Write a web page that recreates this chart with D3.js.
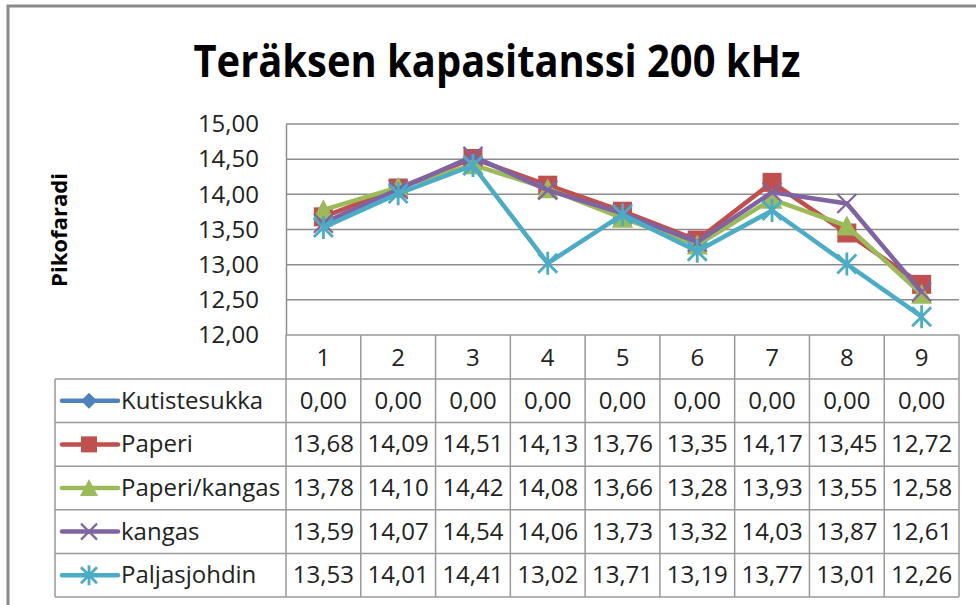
<!DOCTYPE html>
<html>
<head>
<meta charset="utf-8">
<script src="https://cdn.jsdelivr.net/npm/d3@7"></script>
<style>
  body { margin: 0; background: #fff; }
  svg { display: block; font-family: "Open Sans", sans-serif; }
</style>
</head>
<body>
<script>
const categories = ["1", "2", "3", "4", "5", "6", "7", "8", "9"];
const seriesNames = ["Kutistesukka", "Paperi", "Paperi/kangas", "kangas", "Paljasjohdin"];
const kutistesukka = [0, 0, 0, 0, 0, 0, 0, 0, 0];
const paperi = [13.68, 14.09, 14.51, 14.13, 13.76, 13.35, 14.17, 13.45, 12.72];
const paperiKangas = [13.78, 14.10, 14.42, 14.08, 13.66, 13.28, 13.93, 13.55, 12.58];
const kangas = [13.59, 14.07, 14.54, 14.06, 13.73, 13.32, 14.03, 13.87, 12.61];
const paljasjohdin = [13.53, 14.01, 14.41, 13.02, 13.71, 13.19, 13.77, 13.01, 12.26];
const yTicks = [12, 12.5, 13, 13.5, 14, 14.5, 15];

const colors = ["#4F81BD", "#C0504D", "#9BBB59", "#8064A2", "#4BACC6"];
const markers = ["diamond", "square", "triangle", "x", "star"];
const series = [kutistesukka, paperi, paperiKangas, kangas, paljasjohdin].map((v, i) => ({
  name: seriesNames[i], values: v, color: colors[i], marker: markers[i]
}));

const width = 976, height = 605;
const svg = d3.select("body").append("svg")
    .attr("width", width)
    .attr("height", height);

const fmt = v => d3.format(".2f")(v).replace(".", ",");

// outer chart frame
svg.append("rect")
    .attr("x", 8).attr("y", 6)
    .attr("width", 1000).attr("height", 700)
    .attr("fill", "none")
    .attr("stroke", "#8a8a8a")
    .attr("stroke-width", 3);

// title
svg.append("text")
    .attr("x", 497).attr("y", 77)
    .attr("text-anchor", "middle")
    .style("font-size", "44px")
    .style("font-weight", "bold")
    .attr("fill", "#000")
    .attr("textLength", 607)
    .attr("lengthAdjust", "spacingAndGlyphs")
    .text("Teräksen kapasitanssi 200 kHz");

const plotLeft = 286, plotRight = 959, plotTop = 124, plotBottom = 335;
const x = d3.scaleBand().domain(categories).range([plotLeft, plotRight]);
const y = d3.scaleLinear().domain([12, 15]).range([plotBottom, plotTop]);
const cx = c => x(c) + x.bandwidth() / 2;

// gridlines
svg.append("g")
  .selectAll("line")
  .data(yTicks.slice(1))
  .join("line")
    .attr("x1", plotLeft).attr("x2", plotRight)
    .attr("y1", d => y(d)).attr("y2", d => y(d))
    .attr("stroke", "#8c8c8c")
    .attr("stroke-width", 1.5);

// y axis
const yAxis = svg.append("g")
    .attr("transform", `translate(${plotLeft},0)`)
    .call(d3.axisLeft(y).tickValues(yTicks).tickFormat(fmt).tickSize(0).tickPadding(27));
yAxis.select(".domain").attr("stroke", "#8c8c8c").attr("stroke-width", 1.5);
yAxis.selectAll("text")
    .style("font-size", "24px")
    .style("font-family", "Open Sans, sans-serif")
    .attr("fill", "#222");

svg.append("text")
    .attr("transform", "translate(67,230) rotate(-90)")
    .attr("text-anchor", "middle")
    .style("font-size", "22px")
    .style("font-weight", "bold")
    .attr("textLength", 114)
    .attr("lengthAdjust", "spacingAndGlyphs")
    .text("Pikofaradi");

// marker shapes
function drawMarker(g, type, color, s) {
  if (type === "diamond") {
    g.append("path").attr("d", `M0,${-s}L${s},0L0,${s}L${-s},0Z`).attr("fill", color);
  } else if (type === "square") {
    g.append("rect").attr("x", -s).attr("y", -s).attr("width", 2 * s).attr("height", 2 * s).attr("fill", color);
  } else if (type === "triangle") {
    g.append("path").attr("d", `M0,${-s - 1}L${s + 1},${s}L${-s - 1},${s}Z`).attr("fill", color);
  } else if (type === "x") {
    g.append("path").attr("d", `M${-s},${-s}L${s},${s}M${s},${-s}L${-s},${s}`)
      .attr("stroke", color).attr("stroke-width", 2.2);
  } else if (type === "star") {
    g.append("path").attr("d", `M${-s},${-s}L${s},${s}M${s},${-s}L${-s},${s}M0,${-s - 2}L0,${s + 2}`)
      .attr("stroke", color).attr("stroke-width", 2.8);
  }
}

svg.append("clipPath").attr("id", "plotclip")
  .append("rect").attr("x", plotLeft).attr("y", plotTop - 15)
  .attr("width", plotRight - plotLeft + 10).attr("height", plotBottom - plotTop + 15);

const plot = svg.append("g").attr("clip-path", "url(#plotclip)");
const line = d3.line()
    .x((d, i) => cx(categories[i]))
    .y(d => y(d));

series.forEach(s => {
  const g = plot.append("g");
  g.append("path")
      .attr("d", line(s.values))
      .attr("fill", "none")
      .attr("stroke", s.color)
      .attr("stroke-width", 4.5)
      .attr("stroke-linejoin", "round");
  g.selectAll("g.m")
    .data(s.values)
    .join("g")
      .attr("class", "m")
      .attr("transform", (d, i) => `translate(${cx(categories[i])},${y(d)})`)
      .each(function() { drawMarker(d3.select(this), s.marker, s.color, 9.5); });
});

// data table
const tableLeft = 55, headerBottom = 379, rowH = 43.6;
const tg = svg.append("g");
const rowY = i => headerBottom + i * rowH;

tg.selectAll("text.h")
  .data(categories)
  .join("text")
    .attr("class", "h")
    .attr("x", d => cx(d))
    .attr("y", plotBottom + 31)
    .attr("text-anchor", "middle")
    .style("font-size", "24px")
    .attr("fill", "#222")
    .text(d => d);

series.forEach((s, r) => {
  const cy = rowY(r) + rowH / 2;
  const key = tg.append("g");
  key.append("line")
      .attr("x1", 62).attr("x2", 118).attr("y1", cy).attr("y2", cy)
      .attr("stroke", s.color).attr("stroke-width", 4.5).attr("stroke-linecap", "round");
  const mk = key.append("g").attr("transform", `translate(89,${cy})`);
  drawMarker(mk, s.marker, s.color, 8);
  tg.append("text")
      .attr("x", 121).attr("y", cy + 8)
      .style("font-size", "24px")
      .attr("fill", "#222")
      .text(s.name);
  tg.selectAll(null)
    .data(s.values)
    .join("text")
      .attr("x", (d, i) => cx(categories[i]))
      .attr("y", cy + 8)
      .attr("text-anchor", "middle")
      .style("font-size", "24px")
      .attr("fill", "#222")
      .text(fmt);
});

// table grid lines
const gridStroke = "#999";
tg.append("line").attr("x1", plotLeft).attr("x2", plotRight).attr("y1", plotBottom).attr("y2", plotBottom)
    .attr("stroke", gridStroke).attr("stroke-width", 1.5);
tg.selectAll("line.hr")
  .data(d3.range(series.length + 1).map(rowY))
  .join("line")
    .attr("class", "hr")
    .attr("x1", tableLeft).attr("x2", plotRight)
    .attr("y1", d => d).attr("y2", d => d)
    .attr("stroke", gridStroke).attr("stroke-width", 1.5);
tg.selectAll("line.vr")
  .data(categories.map(c => x(c)).concat([plotRight]))
  .join("line")
    .attr("class", "vr")
    .attr("x1", d => d).attr("x2", d => d)
    .attr("y1", plotBottom).attr("y2", rowY(series.length))
    .attr("stroke", gridStroke).attr("stroke-width", 1.5);
tg.append("line")
    .attr("x1", tableLeft).attr("x2", tableLeft)
    .attr("y1", headerBottom).attr("y2", rowY(series.length))
    .attr("stroke", gridStroke).attr("stroke-width", 1.5);
</script>
</body>
</html>
